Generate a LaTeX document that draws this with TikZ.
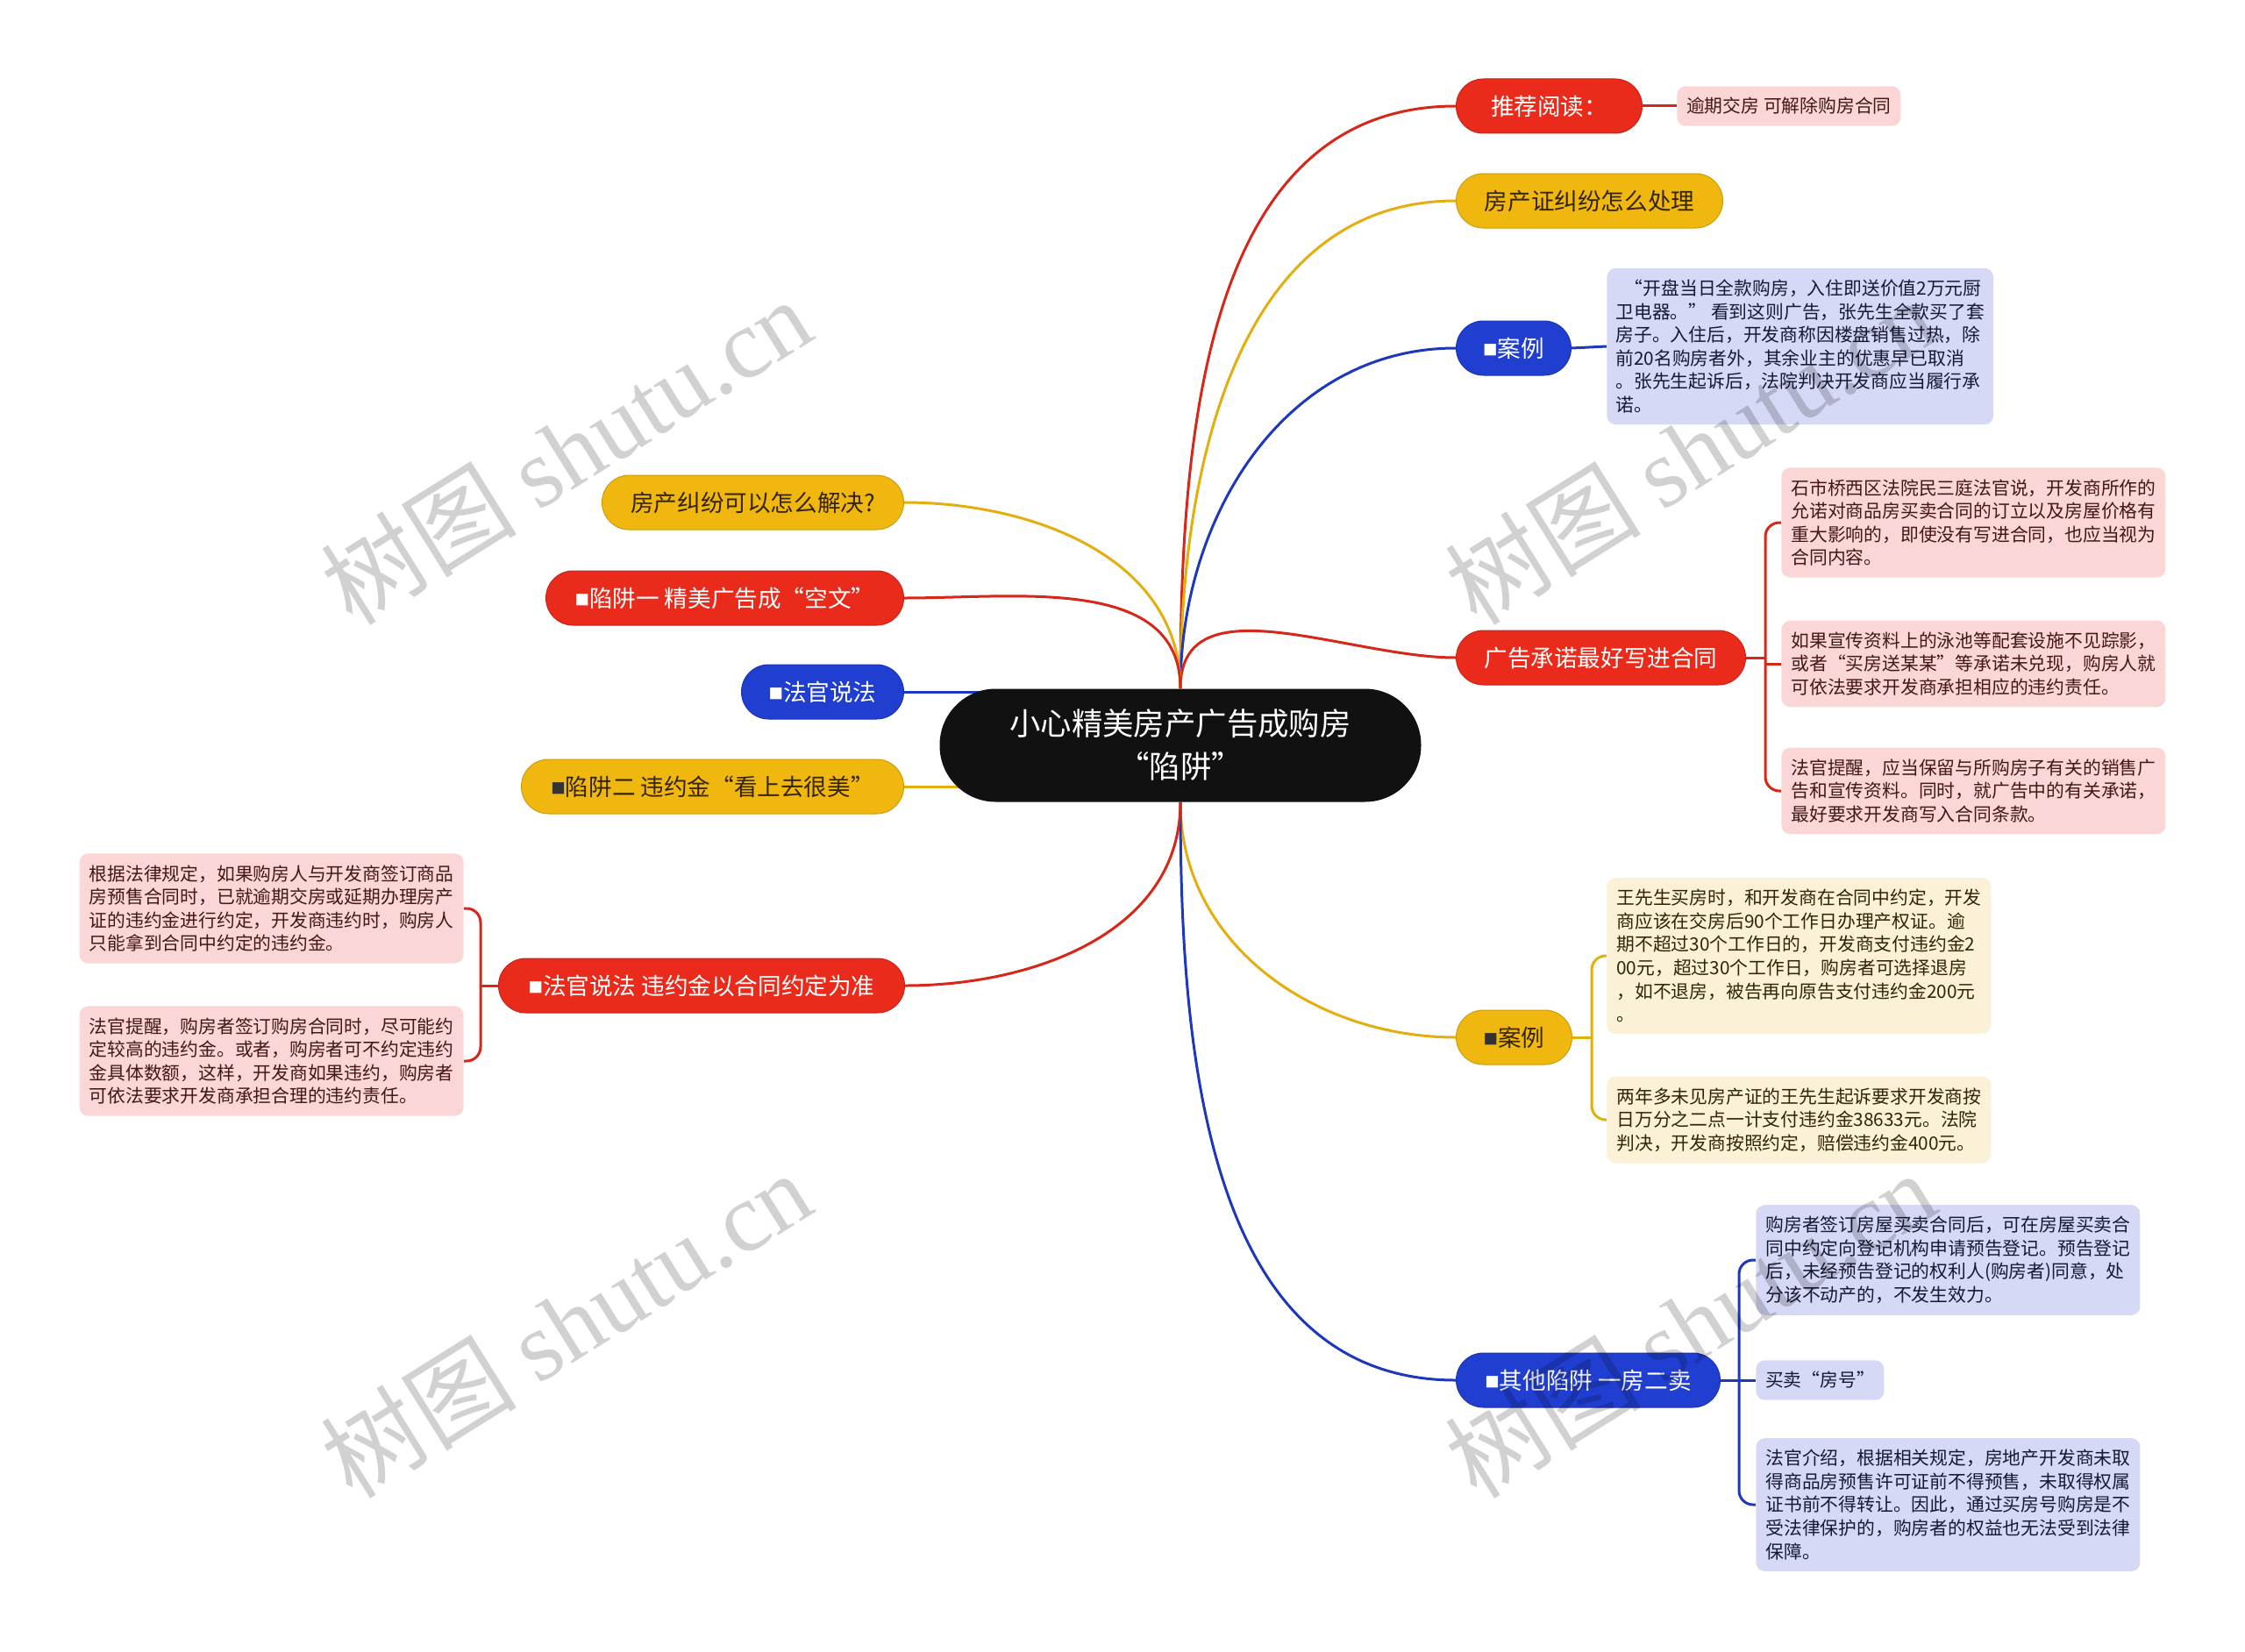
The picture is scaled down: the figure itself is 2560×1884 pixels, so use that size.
\documentclass[tikz,border=0pt]{standalone}
\usepackage{fontspec}
\setmainfont{Noto Sans CJK SC}
\newfontfamily\wmfont{Liberation Serif}
\usetikzlibrary{backgrounds}

\definecolor{hred}{RGB}{234,42,27}
\definecolor{hyellow}{RGB}{240,183,15}
\definecolor{hblue}{RGB}{32,62,208}
\definecolor{lred}{RGB}{250,214,214}
\definecolor{lyellow}{RGB}{251,241,214}
\definecolor{lblue}{RGB}{214,217,246}
\definecolor{tred}{RGB}{70,22,22}
\definecolor{tyellow}{RGB}{52,36,4}
\definecolor{tblue}{RGB}{22,24,52}
\definecolor{ink}{RGB}{17,17,17}
\newcommand\sqb{\raisebox{0.06em}{\scalebox{0.62}{■}}}

\begin{document}
\begin{tikzpicture}[x=0.5pt, y=-0.5pt, line cap=round,
  ctrnode/.style={fill=ink, text=white, rounded corners=32pt, minimum width=274.5pt, minimum height=64.5pt, align=center, font=\fontsize{17.7}{24.5}\selectfont},
  branch/.style={rounded corners=15.5pt, minimum height=31pt, inner xsep=10pt, inner ysep=0pt, line width=0.5pt, font=\fontsize{13.3}{16}\selectfont},
  rb/.style={branch, fill=hred, draw=hred!85!black, text=white},
  yb/.style={branch, fill=hyellow, draw=hyellow!85!black, text=tyellow},
  bb/.style={branch, fill=hblue, draw=hblue!85!black, text=white},
  leaf/.style={rounded corners=5pt, align=left, inner xsep=5pt, inner ysep=6.5pt, minimum width=219pt, font=\fontsize{10.4}{13.3}\selectfont},
  rl/.style={leaf, fill=lred, text=tred},
  yl/.style={leaf, fill=lyellow, text=tyellow},
  bl/.style={leaf, fill=lblue, text=tblue},
  link/.style={line width=1.5pt},
  brace/.style={line width=1.5pt, rounded corners=8pt},
  wmark/.style={rotate=32, text=black, opacity=0.18, font=\fontsize{56}{56}\selectfont}]
\useasboundingbox (0,0) rectangle (2560,1884);

\node[ctrnode] (ctr) at (1346,850) {小心精美房产广告成购房\\“陷阱”};

\node[rb, anchor=west, minimum width=106pt] (tj) at (1660,121) {推荐阅读：};
\node[rl, anchor=west, minimum width=127.5pt] (tjl) at (1912,121) {逾期交房 可解除购房合同};
\node[yb, anchor=west, minimum width=152pt] (fcz) at (1660,229) {房产证纠纷怎么处理};
\node[bb, anchor=west, minimum width=65.5pt] (al1) at (1660,397) {\sqb 案例};
\node[bl, anchor=west] (al1l) at (1832,395) {\hspace*{0.5em}“开盘当日全款购房，入住即送价值2万元厨\\卫电器。” 看到这则广告，张先生全款买了套\\房子。入住后，开发商称因楼盘销售过热，除\\前20名购房者外，其余业主的优惠早已取消\\。张先生起诉后，法院判决开发商应当履行承\\诺。};

\node[rb, anchor=west, minimum width=165pt] (gg) at (1660,750) {广告承诺最好写进合同};
\node[rl, anchor=west] (gg1) at (2031,596) {石市桥西区法院民三庭法官说，开发商所作的\\允诺对商品房买卖合同的订立以及房屋价格有\\重大影响的，即使没有写进合同，也应当视为\\合同内容。};
\node[rl, anchor=west] (gg2) at (2031,757) {如果宣传资料上的泳池等配套设施不见踪影，\\或者“买房送某某”等承诺未兑现，购房人就\\可依法要求开发商承担相应的违约责任。};
\node[rl, anchor=west] (gg3) at (2031,902) {法官提醒，应当保留与所购房子有关的销售广\\告和宣传资料。同时，就广告中的有关承诺，\\最好要求开发商写入合同条款。};
\coordinate (ggb) at (2013,750);

\node[yb, anchor=west, minimum width=66pt] (al2) at (1660,1183) {{\color{black!80}\sqb}案例};
\node[yl, anchor=west] (al2a) at (1832,1090) {王先生买房时，和开发商在合同中约定，开发\\商应该在交房后90个工作日办理产权证。逾\\期不超过30个工作日的，开发商支付违约金2\\00元，超过30个工作日，购房者可选择退房\\，如不退房，被告再向原告支付违约金200元\\。};
\node[yl, anchor=west] (al2b) at (1832,1277) {两年多未见房产证的王先生起诉要求开发商按\\日万分之二点一计支付违约金38633元。法院\\判决，开发商按照约定，赔偿违约金400元。};
\coordinate (al2k) at (1815,1183);

\node[bb, anchor=west, minimum width=150.5pt] (qt) at (1660,1574) {\sqb 其他陷阱 一房二卖};
\node[bl, anchor=west] (qt1) at (2002,1437) {购房者签订房屋买卖合同后，可在房屋买卖合\\同中约定向登记机构申请预告登记。预告登记\\后，未经预告登记的权利人(购房者)同意，处\\分该不动产的，不发生效力。};
\node[bl, anchor=west, minimum width=73pt] (qt2) at (2002,1574) {买卖“房号”};
\node[bl, anchor=west] (qt3) at (2002,1716) {法官介绍，根据相关规定，房地产开发商未取\\得商品房预售许可证前不得预售，未取得权属\\证书前不得转让。因此，通过买房号购房是不\\受法律保护的，购房者的权益也无法受到法律\\保障。};
\coordinate (qtb) at (1983,1574);

\node[yb, anchor=east, minimum width=172pt] (jj) at (1031,573) {房产纠纷可以怎么解决?};
\node[rb, anchor=east, minimum width=204pt] (xj1) at (1031,682) {\sqb 陷阱一 精美广告成“空文”};
\node[bb, anchor=east, minimum width=92.5pt] (fg) at (1031,789) {\sqb 法官说法};
\node[yb, anchor=east, minimum width=218pt] (xj2) at (1031,897) {{\color{black!80}\sqb}陷阱二 违约金“看上去很美”};
\node[rb, anchor=east, minimum width=231.5pt] (fg2) at (1032,1124) {\sqb 法官说法 违约金以合同约定为准};
\node[rl, anchor=east] (fg2a) at (529,1036) {根据法律规定，如果购房人与开发商签订商品\\房预售合同时，已就逾期交房或延期办理房产\\证的违约金进行约定，开发商违约时，购房人\\只能拿到合同中约定的违约金。};
\node[rl, anchor=east] (fg2b) at (529,1210) {法官提醒，购房者签订购房合同时，尽可能约\\定较高的违约金。或者，购房者可不约定违约\\金具体数额，这样，开发商如果违约，购房者\\可依法要求开发商承担合理的违约责任。};
\coordinate (fgb) at (548,1124);

\begin{scope}[on background layer]
  \draw[link, hred!92!black] (ctr.north) to[out=90, in=180] (tj.west);
  \draw[link, hyellow!95!black] (ctr.north) to[out=90, in=180] (fcz.west);
  \draw[link, hblue!90!black] (ctr.north) to[out=90, in=180] (al1.west);
  \draw[link, hred!92!black] (ctr.north) to[out=90, in=180] (gg.west);
  \draw[link, hyellow!95!black] (ctr.south) to[out=-90, in=180] (al2.west);
  \draw[link, hblue!90!black] (ctr.south) to[out=-90, in=180] (qt.west);
  \draw[link, hyellow!95!black] (ctr.north) to[out=90, in=0] (jj.east);
  \draw[link, hred!92!black] (ctr.north) to[out=90, in=0] (xj1.east);
  \draw[link, hblue!90!black] (fg.east) -- (fg.east -| ctr);
  \draw[link, hyellow!95!black] (xj2.east) -- (xj2.east -| ctr);
  \draw[link, hred!92!black] (ctr.south) to[out=-90, in=0] (fg2.east);

  \draw[link, hred!92!black] (tj.east) -- (tjl.west);
  \draw[link, hblue!90!black] (al1.east) -- (al1l.west);

  \draw[brace, hred!92!black] (gg.east) -- (ggb);
  \draw[brace, hred!92!black] (gg1.west) -| (ggb) |- (gg3.west);
  \draw[brace, hred!92!black] (gg2.west) -- (gg2.west -| ggb);

  \draw[brace, hyellow!95!black] (al2.east) -- (al2k);
  \draw[brace, hyellow!95!black] (al2a.west) -| (al2k) |- (al2b.west);

  \draw[brace, hblue!90!black] (qt.east) -- (qtb);
  \draw[brace, hblue!90!black] (qt1.west) -| (qtb) |- (qt3.west);
  \draw[brace, hblue!90!black] (qt2.west) -- (qt2.west -| qtb);

  \draw[brace, hred!92!black] (fg2.west) -- (fgb);
  \draw[brace, hred!92!black] (fg2a.east) -| (fgb) |- (fg2b.east);
\end{scope}

\foreach \wx/\wy in {645/514, 1927/514, 645/1510, 1927/1510}
  \node[wmark] at (\wx,\wy) {树图 {\wmfont shutu.cn}};
\end{tikzpicture}
\end{document}
